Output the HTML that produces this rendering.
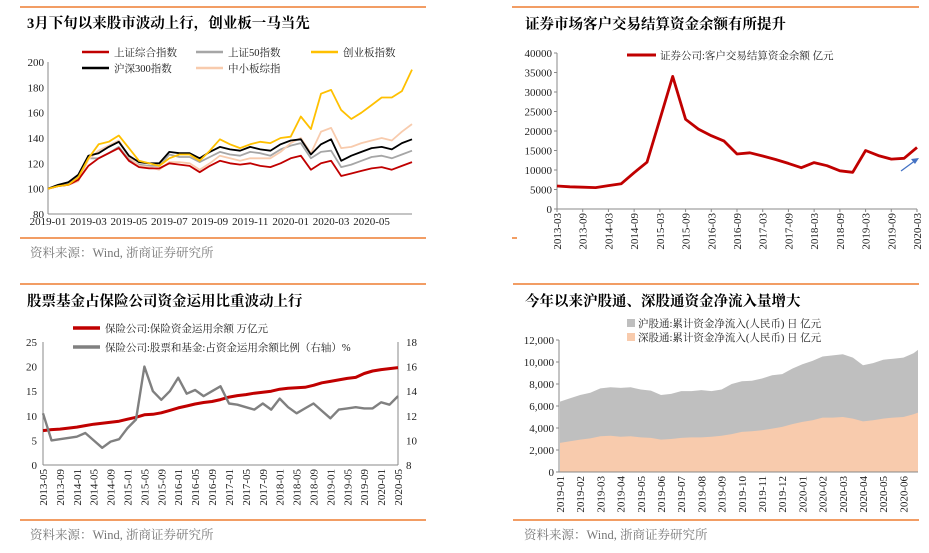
<!DOCTYPE html>
<html><head><meta charset="utf-8"><style>
body{margin:0;background:#fff;}
svg{display:block;font-family:"Liberation Serif","Noto Serif CJK SC",serif;}
.t{font-family:"Liberation Serif","Noto Serif CJK SC",serif;font-weight:bold;font-size:14.5px;fill:#000}
.k{font-size:11px;fill:#222}
.lg{font-size:10.5px;fill:#222}
.src{font-size:12.5px;fill:#777}
</style></head><body>
<svg id="s" width="929" height="553" viewBox="0 0 929 553">
<line x1="20" y1="7" x2="426" y2="7" stroke="#ED7D31" stroke-width="1.5"/>
<line x1="512" y1="7" x2="919" y2="7" stroke="#ED7D31" stroke-width="1.5"/>
<line x1="20" y1="284" x2="426" y2="284" stroke="#ED7D31" stroke-width="1.5"/>
<line x1="513" y1="284" x2="919" y2="284" stroke="#ED7D31" stroke-width="1.5"/>
<line x1="20" y1="238" x2="426" y2="238" stroke="#ED7D31" stroke-width="1.5"/>
<line x1="20" y1="520" x2="426" y2="520" stroke="#ED7D31" stroke-width="1.5"/>
<line x1="513" y1="520" x2="919" y2="520" stroke="#ED7D31" stroke-width="1.5"/>
<line x1="512" y1="238" x2="517" y2="238" stroke="#ED7D31" stroke-width="1.5"/>
<text class="t" x="27" y="28">3月下旬以来股市波动上行，创业板一马当先</text>
<text class="t" x="525" y="29">证券市场客户交易结算资金余额有所提升</text>
<text class="t" x="27" y="306">股票基金占保险公司资金运用比重波动上行</text>
<text class="t" x="525" y="306">今年以来沪股通、深股通资金净流入量增大</text>
<text class="src" x="30" y="257">资料来源：Wind, 浙商证券研究所</text>
<text class="src" x="30" y="539">资料来源：Wind, 浙商证券研究所</text>
<text class="src" x="524" y="539">资料来源：Wind, 浙商证券研究所</text>
</svg>
<script>
// ---------- Panel 1 data (half-month steps from 2019-01) ----------
const p1Ticks=[80,100,120,140,160,180,200];
const p1XLabels=["2019-01","2019-03","2019-05","2019-07","2019-09","2019-11","2020-01","2020-03","2020-05"];
const p1Names=["上证综合指数","上证50指数","创业板指数","沪深300指数","中小板综指"];
const shComp=[100,102,103,107,118,124,128,132,122,117,116,116,120,119,118,113,118,122,120,119,120,118,117,120,124,126,115,120,122,110,112,114,116,117,115,118,121];
const sz50=[100,103,104,110,124,124,128,133,123,119,118,118,127,125,125,121,125,129,127,126,129,128,126,131,134,136,124,129,130,117,119,122,125,126,124,127,130];
const chinext=[100,102,103,109,124,135,137,142,132,122,120,118,124,127,127,122,130,139,135,132,135,137,136,140,141,157,147,175,178,162,155,160,166,172,172,177,194];
const hs300=[100,103,105,111,126,128,133,137,126,121,120,120,129,128,128,124,129,133,131,130,133,131,130,135,138,139,127,135,139,122,126,129,132,133,131,136,139];
const sme=[100,102,103,106,123,130,134,138,125,118,117,115,121,121,120,115,120,126,124,122,124,124,124,129,136,140,128,145,148,132,133,136,138,140,138,145,151];
// ---------- Panel 2 data (quarterly from 2013-03) ----------
const p2Ticks=[0,5000,10000,15000,20000,25000,30000,35000,40000];
const p2XLabels=["2013-03","2013-09","2014-03","2014-09","2015-03","2015-09","2016-03","2016-09","2017-03","2017-09","2018-03","2018-09","2019-03","2019-09","2020-03"];
const settle=[5900,5700,5600,5500,6000,6500,9300,12000,23000,34000,23000,20500,18800,17400,14100,14400,13600,12700,11700,10600,11900,11100,9800,9400,15000,13700,12800,13000,15800];
// ---------- Panel 3 data (bi-monthly from 2013-05) ----------
const p3LTicks=[0,5,10,15,20,25];
const p3RTicks=[8,10,12,14,16,18];
const p3XLabels=["2013-05","2013-09","2014-01","2014-05","2014-09","2015-01","2015-05","2015-09","2016-01","2016-05","2016-09","2017-01","2017-05","2017-09","2018-01","2018-05","2018-09","2019-01","2019-05","2019-09","2020-01","2020-05"];
const insFund=[7.0,7.2,7.3,7.5,7.7,8.0,8.3,8.5,8.7,8.9,9.3,9.7,10.2,10.3,10.6,11.1,11.6,12.0,12.4,12.7,12.9,13.3,13.8,14.1,14.3,14.6,14.8,15.0,15.4,15.6,15.7,15.8,16.2,16.7,17.0,17.3,17.6,17.8,18.6,19.1,19.4,19.6,19.8];
const stockRatio=[12.2,10.0,10.1,10.2,10.3,10.6,10.0,9.4,9.9,10.1,11.0,11.7,16.0,14.0,13.3,14.0,15.1,13.8,14.1,13.6,14.0,14.4,13.0,12.9,12.7,12.5,13.0,12.5,13.4,12.7,12.2,12.6,13.0,12.4,11.8,12.5,12.6,12.7,12.6,12.6,13.1,12.9,13.6];
// ---------- Panel 4 data (half-month from 2019-01) ----------
const p4Ticks=[0,2000,4000,6000,8000,10000,12000];
const p4XLabels=["2019-01","2019-02","2019-03","2019-04","2019-05","2019-06","2019-07","2019-08","2019-09","2019-10","2019-11","2019-12","2020-01","2020-02","2020-03","2020-04","2020-05","2020-06"];
const hkTotal=[6400,6700,7000,7200,7600,7700,7650,7700,7500,7400,7000,7100,7350,7350,7450,7350,7500,8000,8250,8300,8500,8800,8900,9400,9800,10100,10500,10600,10700,10400,9700,9900,10200,10300,10400,10800,11100];
const szConnect=[2650,2800,2950,3050,3250,3300,3200,3250,3150,3100,2950,3000,3100,3150,3150,3200,3300,3450,3650,3700,3800,3950,4100,4350,4550,4700,4950,4950,5000,4850,4600,4700,4850,4950,5000,5250,5400];

const S=document.getElementById('s');const NS="http://www.w3.org/2000/svg";
function mk(tag,a,txt){const e=document.createElementNS(NS,tag);for(const k in a)e.setAttribute(k,a[k]);if(txt!==undefined)e.textContent=txt;S.appendChild(e);return e;}
function pts(vals,xf,yf){return vals.map((v,i)=>xf(i).toFixed(1)+","+yf(v).toFixed(1)).join(" ");}

// ===== Panel 1 =====
{
const x0=48,x1=412,yT=62,yB=214;
const xs=i=>x0+(x1-x0)*i/(shComp.length-1);
const xm=m=>x0+(x1-x0)*m/18;
const ys=v=>yB-(v-80)/120*(yB-yT);
let e=mk('line',{x1:x0,y1:yT,x2:x0,y2:yB,stroke:'#888'});


e=mk('line',{x1:x0,y1:yB,x2:x1,y2:yB,stroke:'#888'});


p1Ticks.forEach(t=>{const l=mk('text',{class:'k',x:x0-4,y:ys(t)+4,'text-anchor':'end'},t);

});
p1XLabels.forEach((t,i)=>{const l=mk('text',{class:'k',x:xm(i*2),y:yB+11,'text-anchor':'middle'},t);

});
const series=[[shComp,'#C00000'],[sz50,'#A6A6A6'],[chinext,'#FFC000'],[hs300,'#000000'],[sme,'#F8CBAD']];
const order=[1,4,0,3,2];
order.forEach(k=>{const p=mk('polyline',{points:pts(series[k][0],xs,ys),fill:'none',stroke:series[k][1],'stroke-width':1.8,'stroke-linejoin':'round'});

});
const lp=[[82,52],[196,52],[311,52],[82,68],[196,68]];
series.forEach((s,k)=>{const [lx,ly]=lp[k];
const l=mk('line',{x1:lx,y1:ly,x2:lx+27,y2:ly,stroke:s[1],'stroke-width':2.5});


const t=mk('text',{class:'lg',x:lx+32,y:ly+4},p1Names[k]);

});
}
// ===== Panel 2 =====
{
const x0=557,x1=917,yT=53,yB=209;
const xs=i=>x0+(x1-x0)*i/(settle.length-1);
const ys=v=>yB-v/40000*(yB-yT);
let e=mk('line',{x1:x0,y1:yT,x2:x0,y2:yB,stroke:'#888'});


e=mk('line',{x1:x0,y1:yB,x2:x1,y2:yB,stroke:'#888'});


p2Ticks.forEach(t=>{const l=mk('text',{class:'k',x:x0-5,y:ys(t)+4,'text-anchor':'end'},t);


const tk=mk('line',{x1:x0-3,y1:ys(t),x2:x0,y2:ys(t),stroke:'#888'});

});
p2XLabels.forEach((t,i)=>{const x=xs(i*2);const l=mk('text',{class:'k',x:0,y:0,'text-anchor':'end',transform:`translate(${x+4},${yB+4}) rotate(-90)`},t);


const tk=mk('line',{x1:x,y1:yB,x2:x,y2:yB+3,stroke:'#888'});

});
const p=mk('polyline',{points:pts(settle,xs,ys),fill:'none',stroke:'#C00000','stroke-width':2.8,'stroke-linejoin':'round'});


const l=mk('line',{x1:627,y1:55,x2:656,y2:55,stroke:'#C00000','stroke-width':3});


const t=mk('text',{class:'lg',x:660,y:59},'证券公司:客户交易结算资金余额  亿元');


const a=mk('line',{x1:901,y1:171,x2:916,y2:160,stroke:'#4472C4','stroke-width':1.3});


const ah=mk('polygon',{points:'919,158 911,159 915,164',fill:'#4472C4'});


}
// ===== Panel 3 =====
{
const x0=43,x1=398,yT=342,yB=465;
const xs=i=>x0+(x1-x0)*i/(insFund.length-1);
const yl=v=>yB-v/25*(yB-yT);
const yr=v=>yB-(v-8)/10*(yB-yT);
let e=mk('line',{x1:x0,y1:yT,x2:x0,y2:yB,stroke:'#888'});


e=mk('line',{x1:x1,y1:yT,x2:x1,y2:yB,stroke:'#888'});


e=mk('line',{x1:x0,y1:yB,x2:x1,y2:yB,stroke:'#888'});


p3LTicks.forEach(t=>{const l=mk('text',{class:'k',x:x0-6,y:yl(t)+4,'text-anchor':'end'},t);

});
p3RTicks.forEach(t=>{const l=mk('text',{class:'k',x:x1+8,y:yr(t)+4},t);

});
p3XLabels.forEach((t,i)=>{const x=x0+(x1-x0)*i/(p3XLabels.length-1);const l=mk('text',{class:'k',x:0,y:0,'text-anchor':'end',transform:`translate(${x+4},${yB+4}) rotate(-90)`},t);

});
let p=mk('polyline',{points:pts(insFund,xs,yl),fill:'none',stroke:'#C00000','stroke-width':3,'stroke-linejoin':'round'});


p=mk('polyline',{points:pts(stockRatio,xs,yr),fill:'none',stroke:'#808080','stroke-width':2.4,'stroke-linejoin':'round'});


let l=mk('line',{x1:73,y1:328,x2:100,y2:328,stroke:'#C00000','stroke-width':3.5});


let t=mk('text',{class:'lg',x:105,y:332},'保险公司:保险资金运用余额 万亿元');


l=mk('line',{x1:73,y1:347,x2:100,y2:347,stroke:'#808080','stroke-width':3.5});


t=mk('text',{class:'lg',x:105,y:351},'保险公司:股票和基金:占资金运用余额比例（右轴）%');


}
// ===== Panel 4 =====
{
const x0=559,x1=918,yT=340,yB=472,mW=20.2;
const xs=i=>Math.min(x1,x0+1+i*0.5*mW);
const ys=v=>yB-v/12000*(yB-yT);
const area=(vals)=>`${xs(0)},${yB} `+pts(vals,xs,ys)+` ${xs(vals.length-1)},${yB}`;
let p=mk('polygon',{points:area(hkTotal),fill:'#BFBFBF'});


p=mk('polygon',{points:area(szConnect),fill:'#F8CBAD'});


let e=mk('line',{x1:x0,y1:yT,x2:x0,y2:yB,stroke:'#888'});


e=mk('line',{x1:x0,y1:yB,x2:x1,y2:yB,stroke:'#888'});


p4Ticks.forEach(t=>{const l=mk('text',{class:'k',x:x0-5,y:ys(t)+4,'text-anchor':'end'},t.toLocaleString('en-US'));


const tk=mk('line',{x1:x0-3,y1:ys(t),x2:x0,y2:ys(t),stroke:'#888'});

});
p4XLabels.forEach((t,i)=>{const x=x0+1+i*mW;const l=mk('text',{class:'k',x:0,y:0,'text-anchor':'end',transform:`translate(${x+4},${yB+4}) rotate(-90)`},t);

});
let r=mk('rect',{x:627,y:319,width:8,height:8,fill:'#BFBFBF'});


let t=mk('text',{class:'lg',x:638,y:327},'沪股通:累计资金净流入(人民币) 日 亿元');


r=mk('rect',{x:627,y:333,width:8,height:8,fill:'#F8CBAD'});


t=mk('text',{class:'lg',x:638,y:341},'深股通:累计资金净流入(人民币) 日 亿元');


}
</script>
</body></html>
